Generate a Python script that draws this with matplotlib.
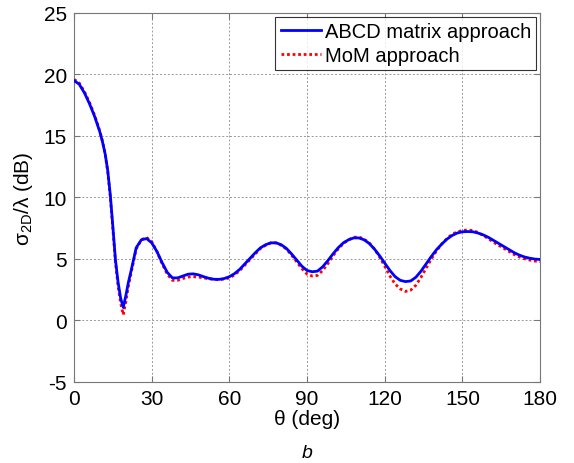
import matplotlib
matplotlib.use("Agg")
import matplotlib.pyplot as plt

plt.rcParams['font.family'] = ['Liberation Sans', 'DejaVu Sans']
plt.rcParams['axes.unicode_minus'] = False

# angles (deg)
theta = [0, 2, 4, 6, 8, 10, 11, 12, 13, 14, 15, 16, 17, 18, 19, 20, 21, 22, 24, 26, 28,
         30, 32, 34, 36, 38, 40, 42, 44, 46, 48, 50, 52, 54, 56, 58, 60, 62, 64, 66,
         68, 70, 72, 74, 76, 78, 80, 82, 84, 86, 88, 90, 92, 94, 96, 98, 100, 102,
         104, 106, 108, 110, 112, 114, 116, 118, 120, 122, 124, 126, 128, 130, 132,
         134, 136, 138, 140, 142, 144, 146, 148, 150, 152, 154, 156, 158, 160, 162,
         164, 166, 168, 170, 172, 174, 176, 178, 180]

# ABCD matrix approach (dB)
abcd = [19.5, 19.2, 18.5, 17.6, 16.55, 15.3, 14.5, 13.55, 12.2, 10.2, 7.6, 4.9, 3.1,
        1.8, 1.05, 2.0, 3.1, 4.0, 5.9, 6.55, 6.65, 6.3, 5.6, 4.7, 3.9, 3.45, 3.45, 3.6,
        3.75, 3.78, 3.7, 3.55, 3.42, 3.34, 3.33, 3.4, 3.55, 3.8, 4.15, 4.6, 5.05, 5.5,
        5.9, 6.15, 6.3, 6.3, 6.15, 5.85, 5.4, 4.9, 4.4, 4.05, 3.95, 4.0, 4.35, 4.85,
        5.4, 5.9, 6.3, 6.55, 6.7, 6.7, 6.55, 6.25, 5.8, 5.25, 4.65, 4.05, 3.55, 3.25,
        3.15, 3.2, 3.5, 4.0, 4.6, 5.2, 5.75, 6.2, 6.6, 6.9, 7.1, 7.2, 7.22, 7.2, 7.1,
        6.95, 6.75, 6.5, 6.25, 6.0, 5.75, 5.5, 5.3, 5.15, 5.05, 4.98, 4.95]

# MoM approach (dB)
mom = [19.6, 19.3, 18.6, 17.7, 16.65, 15.35, 14.55, 13.55, 12.1, 10.0, 7.4, 4.7, 2.8,
       1.4, 0.45, 1.5, 2.8, 3.8, 5.8, 6.55, 6.75, 6.4, 5.6, 4.6, 3.75, 3.25, 3.25, 3.4,
       3.52, 3.55, 3.52, 3.45, 3.38, 3.32, 3.3, 3.35, 3.45, 3.7, 4.05, 4.5, 4.95, 5.4,
       5.85, 6.1, 6.3, 6.3, 6.1, 5.8, 5.3, 4.75, 4.2, 3.75, 3.6, 3.65, 4.05, 4.6,
       5.25, 5.8, 6.25, 6.55, 6.75, 6.78, 6.6, 6.3, 5.8, 5.15, 4.4, 3.6, 2.95, 2.55,
       2.35, 2.45, 2.85, 3.5, 4.25, 5.0, 5.65, 6.2, 6.65, 7.0, 7.2, 7.3, 7.35, 7.3,
       7.15, 6.9, 6.65, 6.35, 6.1, 5.85, 5.6, 5.35, 5.15, 5.0, 4.9, 4.82, 4.78]

xticks = [0, 30, 60, 90, 120, 150, 180]
yticks = [-5, 0, 5, 10, 15, 20, 25]

fig = plt.figure(figsize=(5.74, 4.64), dpi=100)
ax = fig.add_axes([0.129, 0.175, 0.812, 0.795])

ax.plot(theta, abcd, color='blue', lw=2, label='ABCD matrix approach', zorder=3)
ax.plot(theta, mom, color='red', lw=2, ls=(0, (1, 1)), label='MoM approach', zorder=2)

ax.set_xlim(0, 180)
ax.set_ylim(-5, 25)
ax.set_xticks(xticks)
ax.set_yticks(yticks)
ax.grid(True, color='#999999', ls=(0, (2, 2)), lw=0.7)
ax.tick_params(direction='in', top=True, right=True, labelsize=15, length=4,
               color='#777777', pad=5)
for s in ax.spines.values():
    s.set_color('#777777')

ax.set_xlabel('θ (deg)', fontsize=15, labelpad=1)
ax.set_ylabel(r'$\mathregular{σ_{2D}/λ}$ (dB)', fontsize=15, labelpad=6)

leg = ax.legend(loc='upper right', fontsize=14.5, handlelength=2.0, handletextpad=0.2,
                borderpad=0.25, labelspacing=0.25, fancybox=False,
                borderaxespad=0.2)
leg.get_frame().set_edgecolor('black')
leg.get_frame().set_linewidth(0.8)

fig.text(0.535, 0.012, 'b', fontsize=14, style='italic', ha='center')

fig.savefig('out.png', dpi=100)
